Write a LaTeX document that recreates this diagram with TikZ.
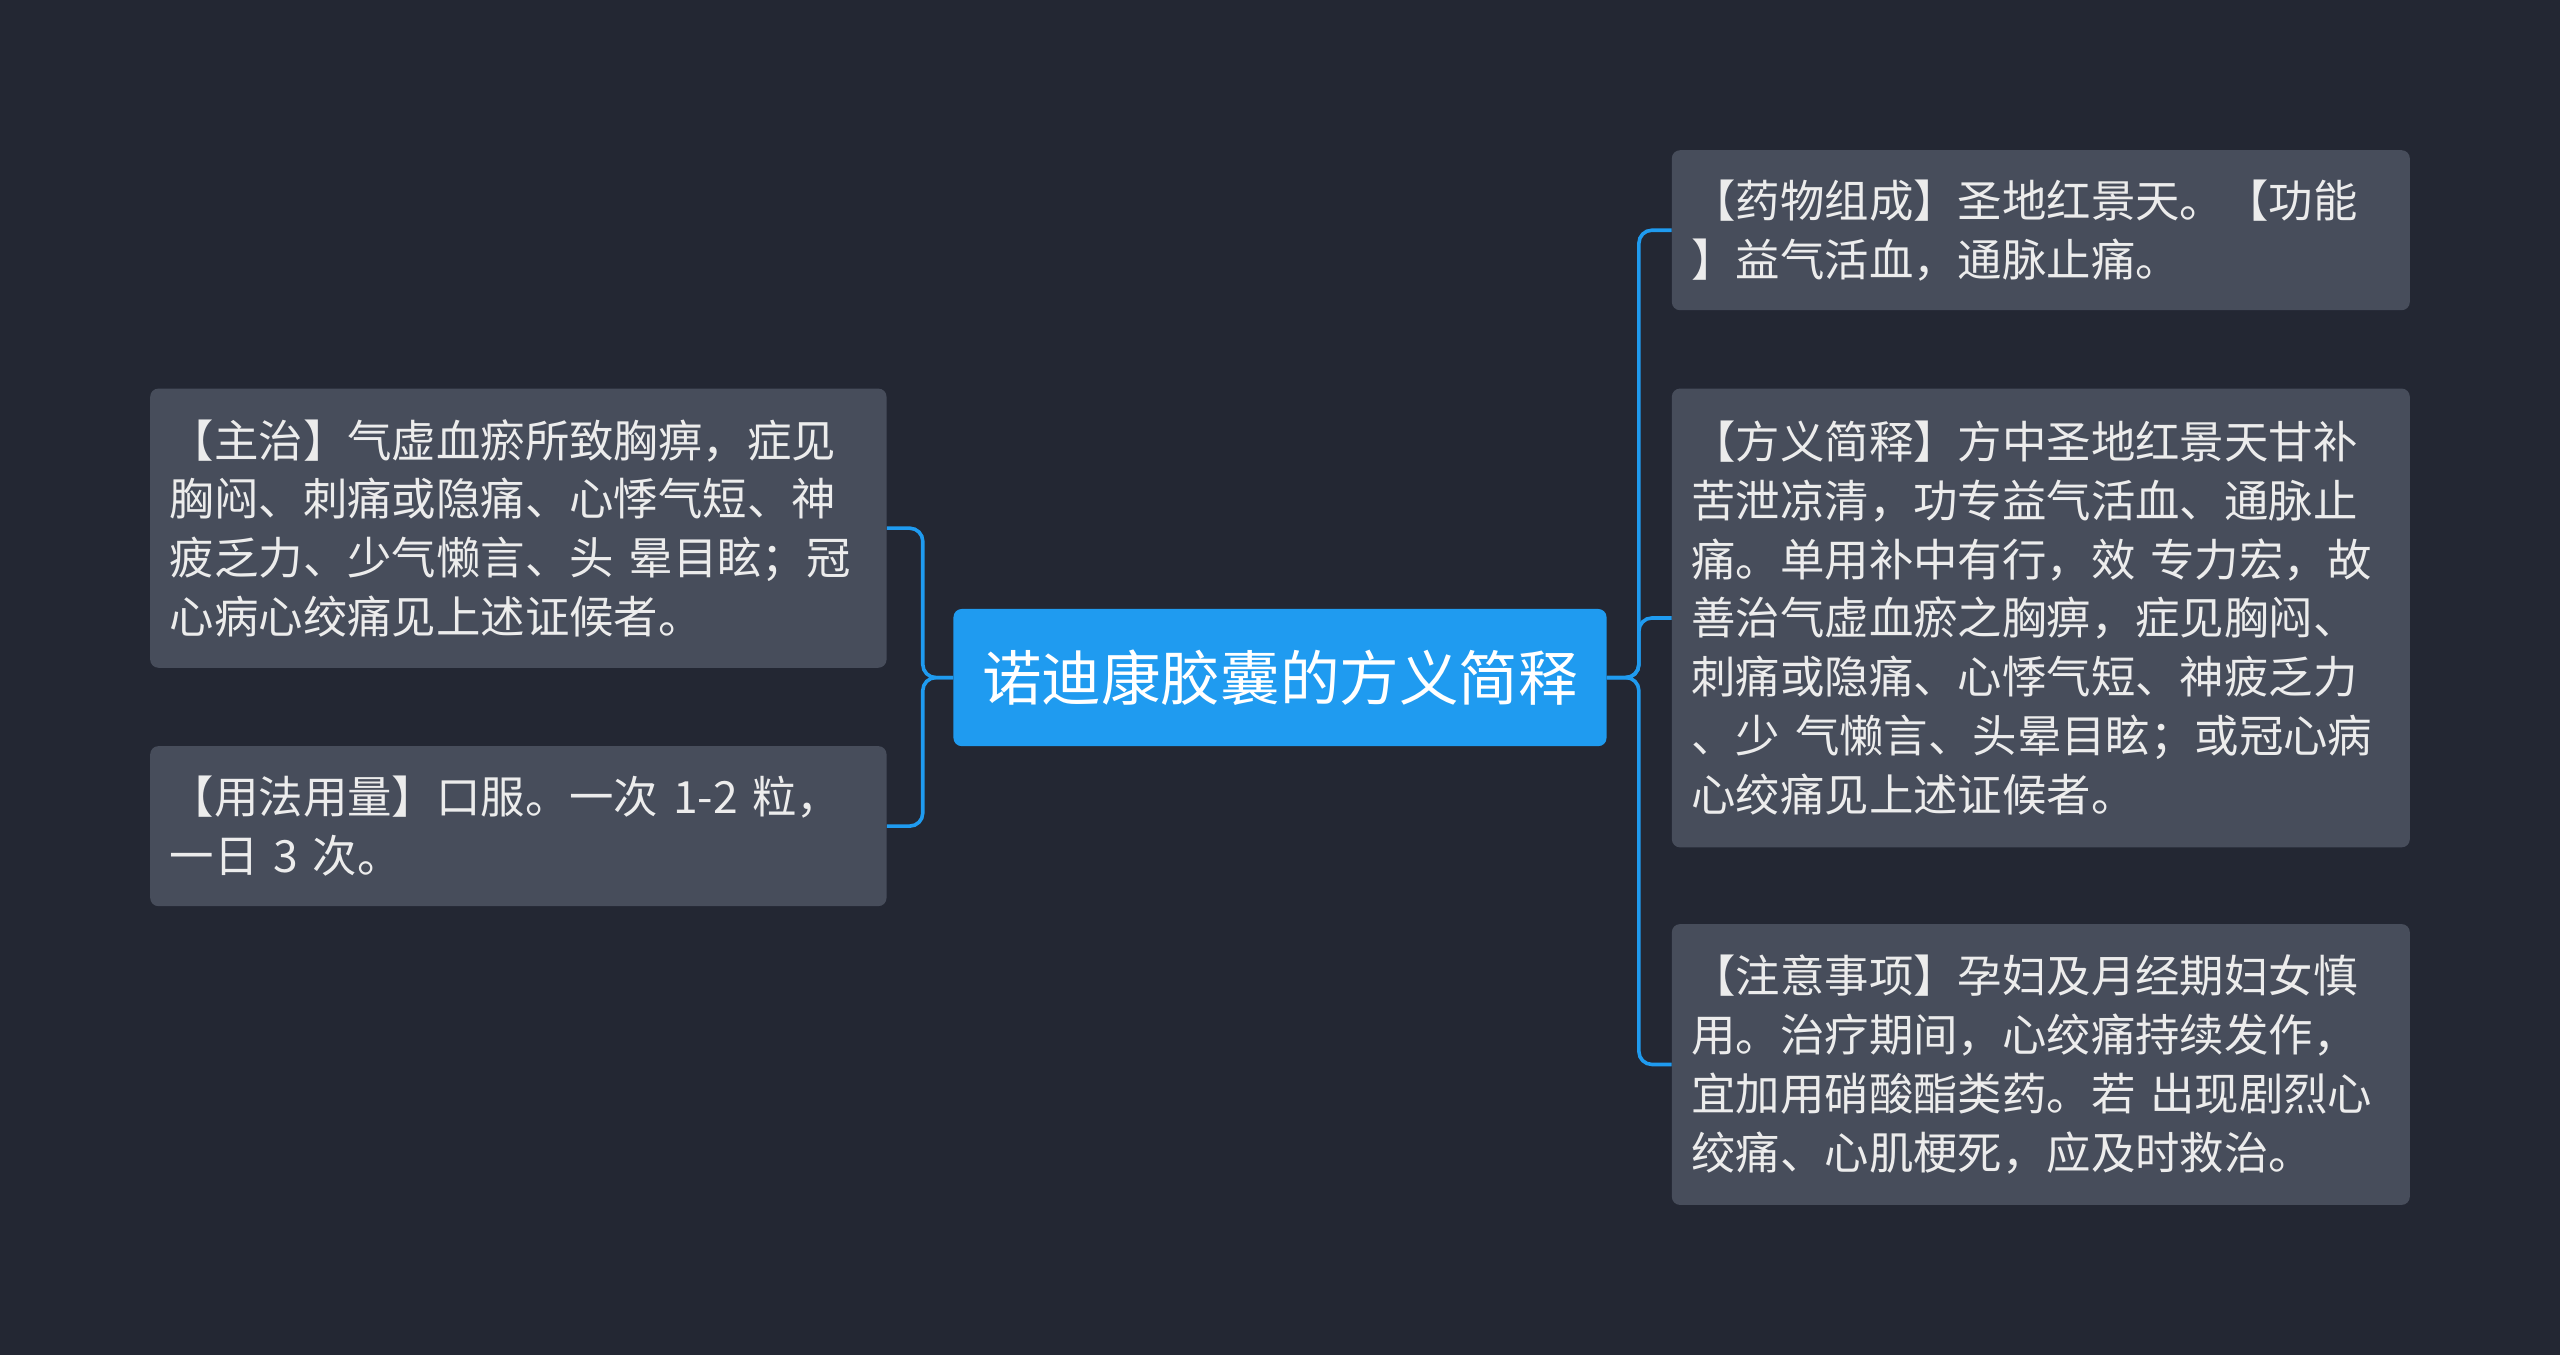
\documentclass[tikz,border=0pt]{standalone}
\usepackage{fontspec}
\setmainfont{Noto Sans CJK SC}
\begin{document}
\begin{tikzpicture}[x=1pt,y=-1pt]
\definecolor{bg}{HTML}{232733}
\definecolor{box}{HTML}{474D5B}
\definecolor{blu}{HTML}{1F9BF0}
\definecolor{txt}{HTML}{ECECEC}
\tikzset{
 leaf/.style={fill=box,rounded corners=5pt,text=txt,font=\fontsize{27.2}{36}\selectfont,align=left,text width=#1-24pt,inner sep=12pt,minimum width=#1},
 conn/.style={draw=blu,line width=2.2pt,rounded corners=8pt}
}
\fill[bg] (0,0) rectangle (1568,830);
\useasboundingbox (0,0) rectangle (1568,830);
\node[fill=blu,rounded corners=5pt,text=white,font=\fontsize{36.5}{40}\selectfont,minimum width=400pt,minimum height=84pt,inner sep=0pt] (c) at (784,415) {诺迪康胶囊的方义简释};
\node[leaf=451pt,minimum height=171pt] (l1) at (317.5,323.5) {【主治】气虚血瘀所致胸痹，症见\\胸闷、刺痛或隐痛、心悸气短、神\\疲乏力、少气懒言、头 晕目眩；冠\\心病心绞痛见上述证候者。};
\node[leaf=451pt,minimum height=98pt] (l2) at (317.5,506) {【用法用量】口服。一次 1-2 粒，\\一日 3 次。};
\node[leaf=452pt,minimum height=98pt] (r1) at (1250,141) {【药物组成】圣地红景天。【功能\\】益气活血，通脉止痛。};
\node[leaf=452pt,minimum height=281pt] (r2) at (1250,378.5) {【方义简释】方中圣地红景天甘补\\苦泄凉清，功专益气活血、通脉止\\痛。单用补中有行，效 专力宏，故\\善治气虚血瘀之胸痹，症见胸闷、\\刺痛或隐痛、心悸气短、神疲乏力\\、少 气懒言、头晕目眩；或冠心病\\心绞痛见上述证候者。};
\node[leaf=452pt,minimum height=172pt] (r3) at (1250,652) {【注意事项】孕妇及月经期妇女慎\\用。治疗期间，心绞痛持续发作，\\宜加用硝酸酯类药。若 出现剧烈心\\绞痛、心肌梗死，应及时救治。};
\draw[conn] (l1.east) -- ++(22,0) |- (c.west);
\draw[conn] (l2.east) -- ++(22,0) |- (c.west);
\draw[conn] (r1.west) -- ++(-20,0) |- (c.east);
\draw[conn] (r2.west) -- ++(-20,0) |- (c.east);
\draw[conn] (r3.west) -- ++(-20,0) |- (c.east);
\end{tikzpicture}
\end{document}
